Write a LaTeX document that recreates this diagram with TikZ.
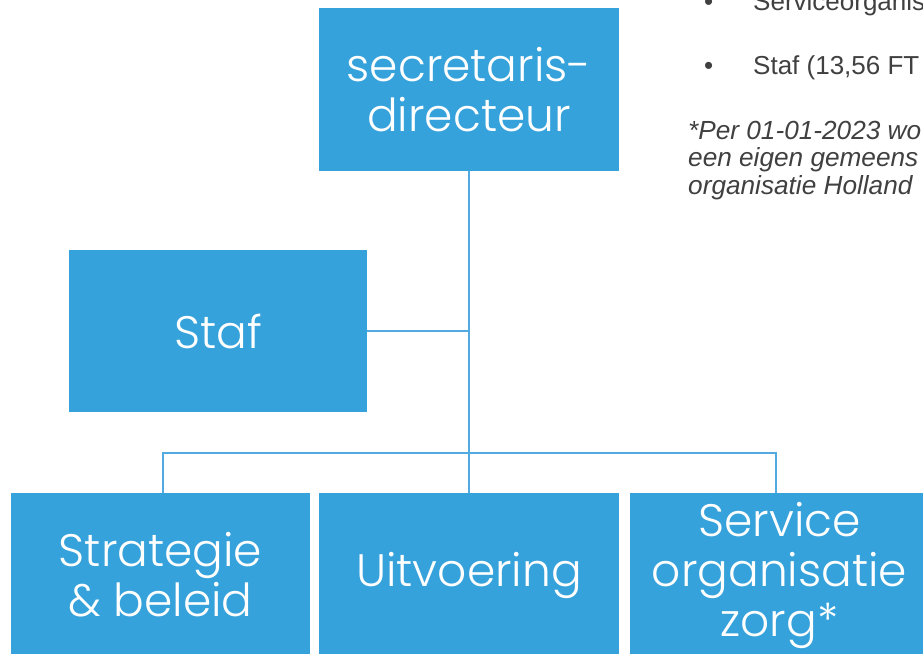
\documentclass[tikz,border=0pt]{standalone}
\usepackage{fontspec}
\setmainfont{Poppins}[UprightFont={* Light}]
\newfontfamily\arialfont{Liberation Sans}
\definecolor{boxblue}{RGB}{54,162,219}
\definecolor{linkblue}{RGB}{82,170,224}
\definecolor{notegray}{RGB}{64,64,64}
\tikzset{
  orgbox/.style={fill=boxblue, draw=none, text=white, align=center,
    inner sep=0pt, font=\fontsize{45.5}{50}\selectfont},
  link/.style={draw=linkblue, line width=1.6pt},
  notetext/.style={anchor=base west, inner sep=0pt, text=notegray},
}
\begin{document}
\begin{tikzpicture}[x=1pt,y=-1pt]
\useasboundingbox (0,0) rectangle (923,653);
\clip (0,0) rectangle (923,653);
% boxes
\node[orgbox, minimum width=300pt, minimum height=163pt] (sd) at (469,89.5) {secretaris-\\directeur};
\node[orgbox, minimum width=298pt, minimum height=162pt] (staf) at (218,331) {Staf};
\node[orgbox, minimum width=299pt, minimum height=164pt] (sb) at (160.5,575) {Strategie\\\& beleid};
\node[orgbox, minimum width=300pt, minimum height=164pt] (uit) at (469,575) {Uitvoering};
\node[orgbox, minimum width=299pt, minimum height=164pt] (soz) at (779.5,575) {Service\\organisatie\\zorg*};
% connectors
\coordinate (bar) at (469,453);
\coordinate (sbtop) at (163,493);
\coordinate (soztop) at (776,493);
\draw[link] (sd.south) -- (uit.north);
\draw[link] (staf.east) -- (staf.east -| sd.south);
\draw[link] (sbtop) |- (bar) -| (soztop);
% right-hand notes
\node[notetext, font=\arialfont\fontsize{26}{30}\selectfont] (b1) at (753,10) {Serviceorganis};
\node[notetext, font=\arialfont\fontsize{26}{30}\selectfont] (b2) at (753,74) {Staf (13,56 FT};
\node[notetext, font=\arialfont\fontsize{26}{30}\selectfont] (d1) at (704,10) {•};
\node[notetext, font=\arialfont\fontsize{26}{30}\selectfont] (d2) at (704,74) {•};
\node[notetext, font=\arialfont\itshape\fontsize{26.2}{28}\selectfont] (n1) at (688,139) {*Per 01-01-2023 wo};
\node[notetext, font=\arialfont\itshape\fontsize{26.2}{28}\selectfont] (n2) at (688,166.5) {een eigen gemeens};
\node[notetext, font=\arialfont\itshape\fontsize{26.2}{28}\selectfont] (n3) at (688,194) {organisatie Holland};
\end{tikzpicture}
\end{document}
